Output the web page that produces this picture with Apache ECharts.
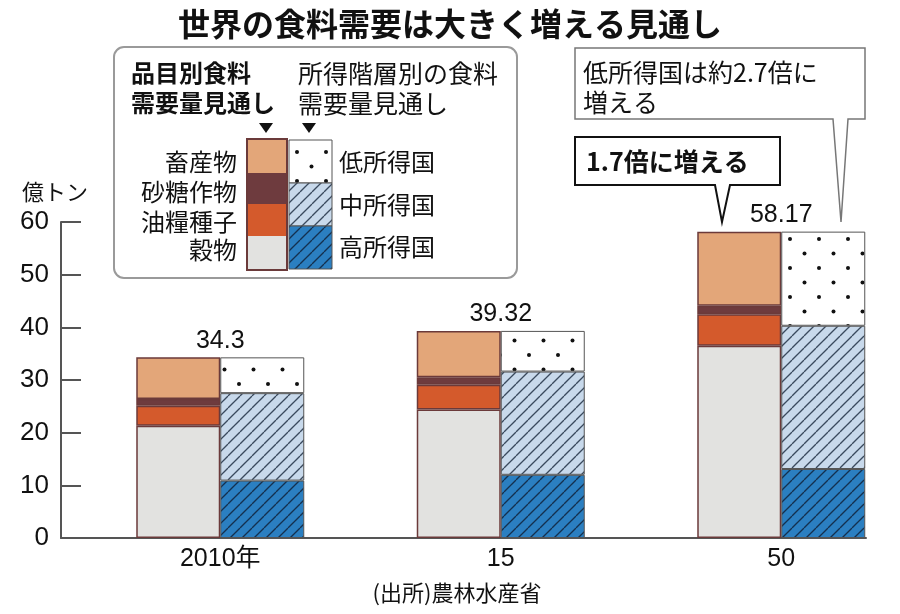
<!DOCTYPE html>
<html>
<head>
<meta charset="utf-8">
<script src="https://cdn.jsdelivr.net/npm/echarts/dist/echarts.min.js"></script>
<style>html,body{margin:0;padding:0;background:#fff;}#c{width:900px;height:614px;}</style>
</head>
<body>
<div id="c"></div>
<script>
// ---- data ----
const categories = ['2010年', '15', '50'];
const grain = [21.3, 24.4, 36.5];      // 穀物
const oilseed = [3.8, 4.7, 6.0];       // 油糧種子
const sugar = [1.3, 1.4, 1.6];         // 砂糖作物
const livestock = [7.9, 8.82, 14.07];  // 畜産物
const highIncome = [10.9, 12.0, 13.1]; // 高所得国
const midIncome = [16.6, 19.6, 27.2];  // 中所得国
const lowIncome = [6.8, 7.72, 17.87];  // 低所得国
const totals = [34.3, 39.32, 58.17];
const yTicks = [0, 10, 20, 30, 40, 50, 60];

const JP = '"Noto Sans CJK JP", sans-serif';
const NUM = '"Liberation Sans", Arial, "Noto Sans CJK JP", sans-serif';

const C_GRAIN = '#e2e2e0', C_OIL = '#d45a2c', C_SUGAR = '#6e3b3e', C_LIVE = '#e3a679';
const C_HIGH = '#2b7fc1', C_MID = '#c8d9eb';
const EDGE_L = '#6b3a3a', EDGE_R = '#555';

function hatch(bg, line) {
  const s = 12;
  const c = document.createElement('canvas');
  c.width = s; c.height = s;
  const g = c.getContext('2d');
  g.fillStyle = bg; g.fillRect(0, 0, s, s);
  g.strokeStyle = line; g.lineWidth = 1.3;
  [-s, 0, s].forEach(k => { g.beginPath(); g.moveTo(k, s); g.lineTo(k + s, 0); g.stroke(); });
  return { image: c, repeat: 'repeat' };
}
function dots() {
  const s = 29;
  const c = document.createElement('canvas');
  c.width = s; c.height = s;
  const g = c.getContext('2d');
  g.fillStyle = '#fff'; g.fillRect(0, 0, s, s);
  g.fillStyle = '#111';
  [[7, 7], [21.5, 21.5]].forEach(p => { g.beginPath(); g.arc(p[0], p[1], 2, 0, Math.PI * 2); g.fill(); });
  return { image: c, repeat: 'repeat' };
}
const P_HIGH = hatch(C_HIGH, '#14304f');
const P_MID = hatch(C_MID, '#3a4a5e');
const P_LOW = dots();

function foodSeries(name, data, color, top) {
  const s = {
    name, type: 'bar', stack: 'food', data, xAxisIndex: 1, yAxisIndex: 1,
    barWidth: 84, barGap: '0%',
    itemStyle: { color, borderColor: EDGE_L, borderWidth: 1.5 }
  };
  if (top) {
    s.label = {
      show: true, position: 'top', distance: 4, offset: [42, 0],
      formatter: p => String(totals[p.dataIndex]),
      fontFamily: NUM, fontSize: 25, color: '#111'
    };
  }
  return s;
}
function incomeSeries(name, data, color) {
  return {
    name, type: 'bar', stack: 'income', data, xAxisIndex: 1, yAxisIndex: 1,
    barWidth: 84, barGap: '0%',
    itemStyle: { color, borderColor: EDGE_R, borderWidth: 1 }
  };
}

function txt(text, x, y, size, opts) {
  opts = opts || {};
  const align = opts.align || 'left';
  return {
    type: 'text', z: 20,
    style: {
      text, x, y, fill: opts.color || '#111',
      font: (opts.bold ? 'bold ' : '') + size + 'px ' + (opts.family || JP),
      textAlign: align, align: align, textVerticalAlign: 'middle', verticalAlign: 'middle'
    }
  };
}

const graphics = [
  // legend box
  { type: 'rect', z: 10, shape: { x: 114, y: 47, width: 403, height: 231, r: 10 }, style: { fill: '#fff', stroke: '#9a9a9a', lineWidth: 2 } },
  txt('品目別食料', 131, 73, 24, { bold: true }),
  txt('需要量見通し', 131, 103, 24, { bold: true }),
  txt('所得階層別の食料', 298, 73, 25),
  txt('需要量見通し', 298, 103, 25),
  { type: 'polygon', z: 20, shape: { points: [[259, 123], [273, 123], [266, 133]] }, style: { fill: '#111' } },
  { type: 'polygon', z: 20, shape: { points: [[302, 123], [316, 123], [309, 133]] }, style: { fill: '#111' } },
  // left swatches
  { type: 'rect', z: 20, shape: { x: 248, y: 140, width: 38, height: 33 }, style: { fill: C_LIVE } },
  { type: 'rect', z: 20, shape: { x: 248, y: 173, width: 38, height: 31 }, style: { fill: C_SUGAR } },
  { type: 'rect', z: 20, shape: { x: 248, y: 204, width: 38, height: 32 }, style: { fill: C_OIL } },
  { type: 'rect', z: 20, shape: { x: 248, y: 236, width: 38, height: 33 }, style: { fill: C_GRAIN } },
  { type: 'rect', z: 21, shape: { x: 247, y: 139, width: 40, height: 131 }, style: { fill: null, stroke: EDGE_L, lineWidth: 2 } },
  // right swatches
  { type: 'rect', z: 20, shape: { x: 289, y: 140, width: 43, height: 43 }, style: { fill: P_LOW, stroke: EDGE_R, lineWidth: 1 } },
  { type: 'rect', z: 20, shape: { x: 289, y: 183, width: 43, height: 43 }, style: { fill: P_MID, stroke: EDGE_R, lineWidth: 1 } },
  { type: 'rect', z: 20, shape: { x: 289, y: 226, width: 43, height: 43 }, style: { fill: P_HIGH, stroke: EDGE_R, lineWidth: 1 } },
  txt('畜産物', 237, 162, 24, { align: 'right' }),
  txt('砂糖作物', 237, 192, 24, { align: 'right' }),
  txt('油糧種子', 237, 222, 24, { align: 'right' }),
  txt('穀物', 237, 250, 24, { align: 'right' }),
  txt('低所得国', 339, 162, 24),
  txt('中所得国', 339, 205, 24),
  txt('高所得国', 339, 247, 24),
  // unit & source
  txt('億トン', 22, 192, 22),
  txt('(出所)農林水産省', 457, 593, 22, { align: 'center' }),
  // callout 1
  { type: 'polygon', z: 20, shape: { points: [[575, 137], [780, 137], [780, 185], [730, 185], [722, 222], [715, 185], [575, 185]] }, style: { fill: '#fff', stroke: '#111', lineWidth: 2 } },
  txt('1.7倍に増える', 586, 161, 25, { bold: true }),
  // callout 2
  { type: 'polygon', z: 20, shape: { points: [[575, 48], [865, 48], [865, 119], [848, 119], [841, 222], [833, 119], [575, 119]] }, style: { fill: '#fff', stroke: '#777', lineWidth: 1.5 } },
  txt('低所得国は約2.7倍に', 583, 72, 25),
  txt('増える', 583, 102, 25)
];

const chart = echarts.init(document.getElementById('c'));
chart.setOption({
  animation: false,
  backgroundColor: '#fff',
  title: {
    text: '世界の食料需要は大きく増える見通し', left: 'center', top: 3,
    textStyle: { fontFamily: JP, fontSize: 32, fontWeight: 'bold', color: '#111' }
  },
  grid: [
    { left: 61, top: 222, width: 805, bottom: 76, outerBoundsMode: 'none', containLabel: false },
    { left: 80, top: 222, width: 841.5, bottom: 76, outerBoundsMode: 'none', containLabel: false }
  ],
  xAxis: [
    { gridIndex: 0, type: 'value', min: 0, max: 1,
      axisLine: { show: true, lineStyle: { color: '#555', width: 2 } },
      axisTick: { show: false }, axisLabel: { show: false }, splitLine: { show: false } },
    { gridIndex: 1, type: 'category', data: categories,
      axisLine: { show: false }, axisTick: { show: false },
      axisLabel: { fontFamily: NUM, fontSize: 25, color: '#111', margin: 9 } }
  ],
  yAxis: [
    { gridIndex: 0, type: 'value', min: 0, max: 60, interval: 10,
      axisLine: { show: true, onZero: false, lineStyle: { color: '#555', width: 2 } },
      axisTick: { show: true, inside: true, length: 20, lineStyle: { color: '#555', width: 2 } },
      axisLabel: { fontFamily: NUM, fontSize: 26, color: '#111', margin: 12,
        formatter: v => (yTicks.indexOf(v) >= 0 ? String(v) : '') },
      splitLine: { show: false } },
    { gridIndex: 1, type: 'value', min: 0, max: 60, show: false, splitLine: { show: false } }
  ],
  series: [
    foodSeries('穀物', grain, C_GRAIN),
    foodSeries('油糧種子', oilseed, C_OIL),
    foodSeries('砂糖作物', sugar, C_SUGAR),
    foodSeries('畜産物', livestock, C_LIVE, true),
    incomeSeries('高所得国', highIncome, P_HIGH),
    incomeSeries('中所得国', midIncome, P_MID),
    incomeSeries('低所得国', lowIncome, P_LOW)
  ],
  graphic: graphics
});
</script>
</body>
</html>
